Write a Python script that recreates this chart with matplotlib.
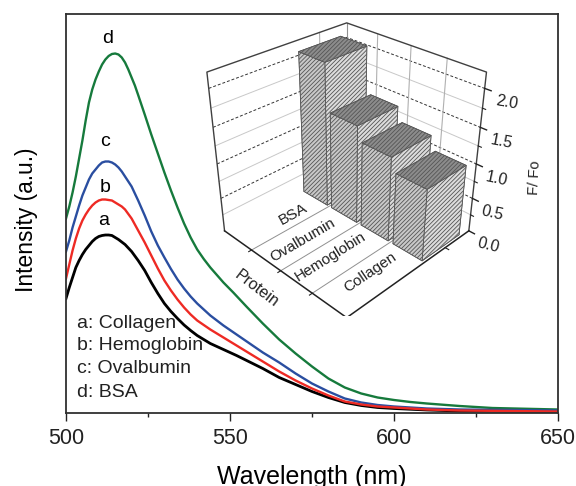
import matplotlib
matplotlib.use('Agg')
import matplotlib.pyplot as plt

plt.rcParams['font.family'] = ['Liberation Sans', 'DejaVu Sans']
plt.rcParams['hatch.linewidth'] = 0.6
plt.rcParams['hatch.color'] = '#484848'

# 発光スペクトル
wl_d = [500, 501, 502, 503, 504, 505, 506, 507, 508, 509, 510, 511, 512, 513, 514, 515, 516, 517, 518, 519, 520, 521, 522, 524, 526, 528, 530, 532, 534, 536, 538, 540, 542, 544, 546, 548, 551, 555, 560, 565, 570, 575, 580, 585, 590, 595, 600, 605, 610, 620, 630, 650]
int_d = [194, 206, 220, 236, 254, 272, 292, 310, 323, 333, 341, 348, 353, 356.5, 358.5, 359, 358, 355, 350, 343, 335, 327, 317.5, 298, 278, 259, 240, 222, 205, 189, 175, 163, 153.5, 145, 137.5, 130, 120, 106, 89, 73, 59, 46, 34, 25, 19, 15, 12.5, 10.5, 9, 6.5, 4.5, 3]

wl_c = [500, 501, 502, 503, 504, 505, 506, 507, 508, 509, 510, 511, 512, 513, 514, 515, 516, 517, 518, 519, 520, 522, 524, 526, 528, 530, 532, 534, 536, 538, 540, 544, 548, 552, 556, 560, 565, 570, 575, 580, 585, 590, 595, 600, 610, 620, 650]
int_c = [161, 172, 185, 196, 207, 217, 225, 233, 239, 243, 247, 250, 251, 251, 250, 248, 245, 241, 236, 231, 226, 212, 197, 181, 167, 155, 143.5, 133, 124, 116, 109, 97, 87, 78, 69, 60, 50, 39, 29, 21, 14, 10, 7.5, 6, 4, 3, 2]

wl_b = [500, 501, 502, 503, 504, 505, 506, 507, 508, 509, 510, 511, 512, 513, 514, 515, 516, 517, 518, 520, 522, 524, 526, 528, 530, 532, 534, 536, 538, 540, 544, 548, 552, 556, 560, 565, 570, 575, 580, 585, 590, 595, 600, 610, 620, 650]
int_b = [134, 148, 162, 174, 184, 192, 198, 203, 207, 210, 212, 213, 213, 212.5, 212, 210, 208, 206, 203, 194, 182, 170, 157, 144, 132, 122, 113, 105, 98, 92, 83, 75, 67, 59, 51, 41, 32, 24, 17, 11, 8, 6, 5, 3, 2, 1]

wl_a = [500, 501, 502, 503, 504, 505, 506, 507, 508, 509, 510, 511, 512, 513, 514, 515, 516, 518, 520, 522, 524, 526, 528, 530, 532, 534, 536, 538, 540, 544, 548, 552, 556, 560, 565, 570, 575, 580, 585, 590, 595, 600, 610, 620, 650]
int_a = [114, 125, 135, 145, 152, 158, 163, 167, 171, 174, 176, 177, 177.5, 177.5, 177, 175, 173, 168, 161, 152, 142, 130, 119, 109, 101, 94, 87.5, 82, 77, 69, 63, 57, 50.5, 44, 35, 28, 21, 15, 10, 7, 5, 4, 2.5, 1.5, 1]

# 挿入図の棒グラフ
proteins = ['BSA', 'Ovalbumin', 'Hemoglobin', 'Collagen']
ratios = [2.07, 1.42, 1.22, 1.03]

fig = plt.figure(figsize=(5.76, 4.86), dpi=100)
ax = fig.add_axes([66 / 576, 1 - 412.5 / 486, (558 - 66) / 576, (412.5 - 14) / 486])

ax.plot(wl_a, int_a, color='black', lw=2)
ax.plot(wl_d, int_d, color='#167a3c', lw=1.7)
ax.plot(wl_c, int_c, color='#2a4ea0', lw=1.7)
ax.plot(wl_b, int_b, color='#ee2a24', lw=1.7)

ax.set_xlim(500, 650)
ax.set_ylim(0, 398.5)
ax.set_xticks([500, 550, 600, 650])
ax.set_xticks([525, 575, 625], minor=True)
ax.set_yticks([])
ax.tick_params(axis='x', which='major', length=6, width=1, labelsize=15.5, pad=5, colors='#222222')
ax.tick_params(axis='x', which='minor', length=3, width=1, colors='#222222')
ax.set_xlabel('Wavelength (nm)', fontsize=18, labelpad=12)
ax.set_ylabel('Intensity (a.u.)', fontsize=16.4, labelpad=20, y=0.484)
for s in ax.spines.values():
    s.set_linewidth(1.3)
    s.set_color('#303030')

ax.text(512.6, 374, 'd', fontsize=14, ha='center', va='center')
ax.text(512, 271, 'c', fontsize=14, ha='center', va='center')
ax.text(512, 225, 'b', fontsize=14, ha='center', va='center')
ax.text(511.5, 192, 'a', fontsize=14, ha='center', va='center')
for label, y in zip(['a: Collagen', 'b: Hemoglobin', 'c: Ovalbumin', 'd: BSA'], [89, 67, 44, 20]):
    ax.text(503.5, y, label, fontsize=14, va='center', color='#222222')

# --- inset ---
ax3 = fig.add_axes([187.5 / 576, 1 - 316 / 486, 310 / 576, 310 / 486], projection='3d')
ax3.patch.set_alpha(0)
ax3.set_axis_off()
ax3.computed_zorder = False
ax3.view_init(elev=31, azim=-45)
ax3.set_proj_type('persp', focal_length=0.42)
ax3.set_box_aspect((1, 1, 1))
ZMAX = 2.2
ax3.set_xlim(0, 4, view_margin=0)
ax3.set_ylim(0, 1, view_margin=0)
ax3.set_zlim(0, ZMAX, view_margin=0)

# 壁のグリッド
for z in [0.25, 0.75, 1.25, 1.75]:
    ax3.plot([0, 0, 4], [0, 1, 1], [z, z, z], color='#c8c8c8', lw=0.7, zorder=1)
for z in [0.5, 1.0, 1.5, 2.0]:
    ax3.plot([0, 0, 4], [0, 1, 1], [z, z, z], color='#333333', lw=0.7, ls=(0, (3, 2)), zorder=1)
for x in [1, 2, 3]:
    ax3.plot([x, x], [1, 1], [0, ZMAX], color='#b0b0b0', lw=0.8, zorder=1)
    ax3.plot([x, x], [0, 1], [0, 0], color='#909090', lw=0.7, zorder=1)
ax3.plot([0, 0], [0.78, 0.78], [0, ZMAX], color='#b0b0b0', lw=0.8, zorder=1)

# 外枠
ax3.plot([0, 0, 0, 4, 4], [0, 0, 1, 1, 1], [0, ZMAX, ZMAX, ZMAX, 0], color='#404040', lw=1, zorder=2)
ax3.plot([0, 0], [1, 1], [0, ZMAX], color='#909090', lw=0.8, zorder=1)
ax3.plot([0, 4, 4], [0, 0, 1], [0, 0, 0], color='#222222', lw=1.1, zorder=2)

# 棒
face_colors = ['#c0c0c0', '#8c8c8c', '#c8c8c8', '#c8c8c8', '#dcdcdc', '#dcdcdc']
for i, val in enumerate(ratios):
    ax3.bar3d(i + 0.08, 0.6, 0, 0.85, 0.33, val, color=face_colors, edgecolor='#555555',
              linewidth=0.6, hatch='////////', shade=False, zorder=3 + i)

# 目盛りと文字
for z in [0, 0.5, 1.0, 1.5, 2.0]:
    ax3.plot([4, 4.16], [1, 1], [z, z], color='#222222', lw=1, zorder=8)
    ax3.text(4.55, 1, z - 0.07, f'{z:.1f}', zdir=(1, 0.1, 0), fontsize=11.5, ha='center', va='center', color='#222222')
for z in [0.25, 0.75, 1.25, 1.75]:
    ax3.plot([4, 4.08], [1, 1], [z, z], color='#222222', lw=0.8, zorder=8)
for x in [1, 2, 3]:
    ax3.plot([x, x], [0, -0.02], [0, 0], color='#222222', lw=0.8, zorder=8)
ax3.plot([4, 4.1], [0.78, 0.78], [0, 0], color='#222222', lw=0.8, zorder=8)

label_x = [0.63, 1.54, 2.42, 3.40]
label_y = [0.39, 0.26, 0.27, 0.33]
for name, lx, ly in zip(proteins, label_x, label_y):
    ax3.text(lx, ly, 0, name, zdir=(0, 1, 0), fontsize=11, ha='center', va='center', color='#222222')
ax3.text(2.09, -0.18, 0, 'Protein', zdir=(1, 0, 0), fontsize=11.5, ha='center', va='center', color='#222222')
ax3.text(5.2, 1.11, 1.0, 'F/ Fo', zdir=(-0.2, 0, 1), fontsize=10.5, ha='center', va='center', color='#222222')

fig.savefig('out.png', dpi=100)
